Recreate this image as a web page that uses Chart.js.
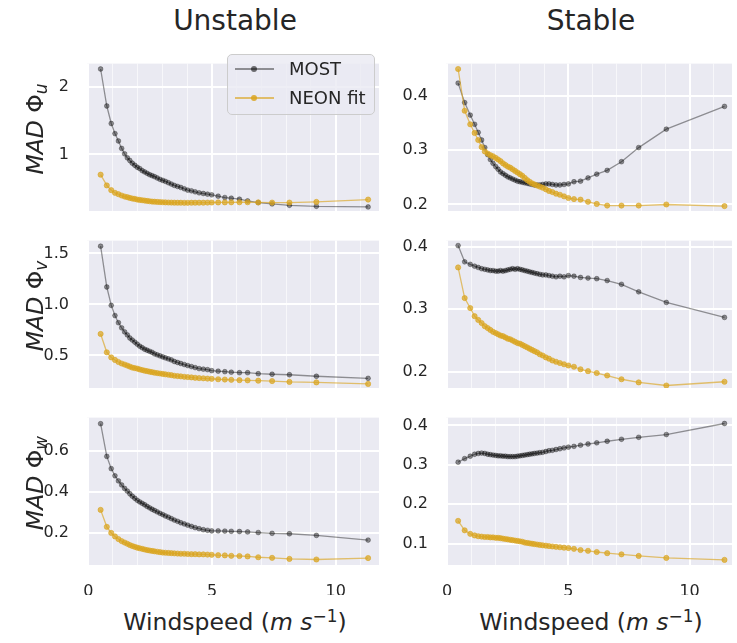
<!DOCTYPE html>
<html>
<head>
<meta charset="utf-8">
<script src="https://cdn.jsdelivr.net/npm/chart.js@4.4.0/dist/chart.umd.min.js"></script>
<style>
body { margin:0; width:737px; height:643px; overflow:hidden; position:relative; background:#fff;
       font-family:"DejaVu Sans", sans-serif; color:#262626; }
canvas { position:absolute; }
.title { position:absolute; top:7px; font-size:28px; line-height:1; transform:translateX(-50%); white-space:nowrap; }
.xlabel { position:absolute; top:611px; font-size:23.5px; line-height:1; transform:translateX(-50%); white-space:nowrap; }
.ylabel { position:absolute; left:36px; font-size:23.5px; line-height:1; white-space:nowrap;
          transform:translate(-50%,-50%) rotate(-90deg); }
sub { font-size:0.72em; vertical-align:-0.22em; line-height:0; }
sup { font-size:0.72em; vertical-align:0.5em; line-height:0; }
#legend { position:absolute; left:227px; top:54px; width:146px; height:59px; border:1px solid #cccccc;
          border-radius:5px; background:rgba(234,234,242,0.8); }
.item { position:absolute; left:0; height:0; width:146px; }
.item .ln { position:absolute; left:7px; top:-1px; width:39px; height:1.5px; }
.item .dot { position:absolute; left:23px; top:-3px; width:6px; height:6px; border-radius:50%; }
.item .tx { position:absolute; left:61px; top:-10px; font-size:18px; line-height:20px; }
</style>
</head>
<body>

<div class="title" style="left:235px">Unstable</div>
<div class="title" style="left:591px">Stable</div>

<canvas id="uU" width="384" height="209" style="left:0;top:36px"></canvas>
<canvas id="uS" width="337" height="209" style="left:400px;top:36px"></canvas>
<canvas id="vU" width="384" height="209" style="left:0;top:213px"></canvas>
<canvas id="vS" width="337" height="209" style="left:400px;top:213px"></canvas>
<canvas id="wU" width="384" height="209" style="left:0;top:390px"></canvas>
<canvas id="wS" width="337" height="209" style="left:400px;top:390px"></canvas>

<div class="ylabel" style="top:129px"><i>MAD</i> Φ<sub><i>u</i></sub></div>
<div class="ylabel" style="top:306px"><i>MAD</i> Φ<sub><i>v</i></sub></div>
<div class="ylabel" style="top:483px"><i>MAD</i> Φ<sub><i>w</i></sub></div>

<div class="xlabel" style="left:235px">Windspeed (<i>m s</i><sup>−1</sup>)</div>
<div class="xlabel" style="left:591px">Windspeed (<i>m s</i><sup>−1</sup>)</div>

<div id="legend">
  <div class="item" style="top:14px">
    <div class="ln" style="background:rgba(0,0,0,0.4)"></div>
    <div class="dot" style="background:rgba(0,0,0,0.55)"></div>
    <div class="tx">MOST</div>
  </div>
  <div class="item" style="top:43px">
    <div class="ln" style="background:rgba(218,165,32,0.65)"></div>
    <div class="dot" style="background:rgba(218,165,32,0.85)"></div>
    <div class="tx">NEON fit</div>
  </div>
</div>

<script>
// windspeed bins (m/s)
const windUnstable = [0.5, 0.75, 0.93, 1.08, 1.22, 1.35, 1.47, 1.58, 1.68, 1.78, 1.88, 1.98, 2.08, 2.18, 2.28, 2.38,
  2.48, 2.58, 2.68, 2.79, 2.9, 3.01, 3.12, 3.24, 3.36, 3.48, 3.61, 3.74, 3.88, 4.02, 4.17, 4.32, 4.48, 4.65, 4.82,
  4.99, 5.25, 5.52, 5.78, 6.11, 6.44, 6.87, 7.43, 8.13, 9.22, 11.31];
const windStable = [0.45, 0.72, 0.95, 1.13, 1.28, 1.42, 1.55, 1.67, 1.78, 1.89, 2.0, 2.1, 2.2, 2.3, 2.4, 2.5, 2.6,
  2.7, 2.8, 2.9, 3.0, 3.1, 3.2, 3.3, 3.4, 3.5, 3.6, 3.71, 3.82, 3.94, 4.07, 4.2, 4.34, 4.49, 4.65, 4.82, 5.0, 5.23,
  5.5, 5.81, 6.17, 6.6, 7.19, 7.9, 9.04, 11.44];

// MAD of phi_u
const mostUnstableU = [2.27, 1.72, 1.46, 1.31, 1.20, 1.09, 1.01, 0.95, 0.91, 0.87, 0.84, 0.81, 0.79, 0.76, 0.74, 0.72,
  0.70, 0.685, 0.67, 0.65, 0.63, 0.615, 0.60, 0.58, 0.56, 0.54, 0.525, 0.51, 0.49, 0.47, 0.46, 0.445, 0.43, 0.42,
  0.41, 0.40, 0.38, 0.36, 0.35, 0.335, 0.31, 0.285, 0.265, 0.245, 0.23, 0.22];
const neonUnstableU = [0.70, 0.54, 0.47, 0.43, 0.41, 0.39, 0.375, 0.365, 0.355, 0.345, 0.34, 0.33, 0.325, 0.32, 0.315,
  0.31, 0.305, 0.30, 0.298, 0.295, 0.292, 0.29, 0.288, 0.286, 0.285, 0.284, 0.283, 0.283, 0.282, 0.282, 0.283, 0.283,
  0.284, 0.284, 0.285, 0.286, 0.287, 0.288, 0.289, 0.29, 0.29, 0.288, 0.285, 0.285, 0.295, 0.33];
const mostStableU = [0.424, 0.388, 0.365, 0.348, 0.333, 0.319, 0.305, 0.292, 0.283, 0.276, 0.27, 0.265, 0.26, 0.257,
  0.254, 0.251, 0.249, 0.247, 0.245, 0.243, 0.242, 0.241, 0.24, 0.239, 0.238, 0.237, 0.236, 0.236, 0.236, 0.237,
  0.238, 0.238, 0.237, 0.236, 0.236, 0.237, 0.238, 0.242, 0.243, 0.249, 0.256, 0.263, 0.279, 0.305, 0.339, 0.381];
const neonStableU = [0.45, 0.373, 0.348, 0.332, 0.319, 0.306, 0.298, 0.294, 0.291, 0.289, 0.286, 0.283, 0.28, 0.276,
  0.273, 0.27, 0.268, 0.265, 0.262, 0.259, 0.256, 0.253, 0.249, 0.245, 0.242, 0.239, 0.237, 0.235, 0.233, 0.231,
  0.228, 0.225, 0.223, 0.22, 0.218, 0.215, 0.212, 0.21, 0.209, 0.205, 0.201, 0.198, 0.198, 0.198, 0.2, 0.197];

// MAD of phi_v
const mostUnstableV = [1.57, 1.17, 0.99, 0.89, 0.82, 0.77, 0.73, 0.70, 0.67, 0.65, 0.63, 0.61, 0.59, 0.575, 0.56,
  0.55, 0.54, 0.53, 0.515, 0.505, 0.495, 0.485, 0.475, 0.465, 0.455, 0.44, 0.43, 0.42, 0.41, 0.40, 0.39, 0.38, 0.37,
  0.365, 0.36, 0.35, 0.345, 0.34, 0.335, 0.33, 0.33, 0.32, 0.315, 0.31, 0.295, 0.275];
const neonUnstableV = [0.71, 0.53, 0.48, 0.455, 0.435, 0.42, 0.41, 0.40, 0.39, 0.38, 0.375, 0.37, 0.362, 0.356, 0.35,
  0.345, 0.34, 0.335, 0.33, 0.326, 0.322, 0.318, 0.314, 0.31, 0.306, 0.30, 0.297, 0.294, 0.29, 0.287, 0.284, 0.28,
  0.277, 0.275, 0.272, 0.27, 0.266, 0.263, 0.26, 0.257, 0.255, 0.252, 0.248, 0.24, 0.235, 0.22];
const mostStableV = [0.402, 0.376, 0.372, 0.369, 0.367, 0.365, 0.364, 0.363, 0.362, 0.362, 0.361, 0.361, 0.362,
  0.361, 0.362, 0.363, 0.364, 0.365, 0.364, 0.365, 0.364, 0.363, 0.362, 0.361, 0.36, 0.359, 0.358, 0.357, 0.356,
  0.355, 0.355, 0.354, 0.353, 0.352, 0.353, 0.352, 0.354, 0.353, 0.351, 0.35, 0.349, 0.346, 0.34, 0.328, 0.311, 0.287];
const neonStableV = [0.367, 0.318, 0.302, 0.289, 0.283, 0.278, 0.273, 0.27, 0.267, 0.264, 0.262, 0.26, 0.258, 0.257,
  0.255, 0.253, 0.252, 0.25, 0.248, 0.246, 0.245, 0.243, 0.241, 0.239, 0.237, 0.235, 0.233, 0.231, 0.228, 0.226,
  0.223, 0.221, 0.218, 0.216, 0.214, 0.212, 0.21, 0.208, 0.204, 0.201, 0.198, 0.194, 0.188, 0.183, 0.178, 0.184];

// MAD of phi_w
const mostUnstableW = [0.735, 0.575, 0.515, 0.48, 0.455, 0.435, 0.418, 0.405, 0.392, 0.38, 0.37, 0.36, 0.352, 0.345,
  0.338, 0.33, 0.323, 0.316, 0.31, 0.303, 0.296, 0.29, 0.283, 0.277, 0.27, 0.263, 0.257, 0.25, 0.244, 0.238, 0.232,
  0.226, 0.221, 0.216, 0.213, 0.21, 0.21, 0.209, 0.208, 0.207, 0.205, 0.202, 0.198, 0.196, 0.188, 0.165];
const neonUnstableW = [0.313, 0.23, 0.20, 0.183, 0.17, 0.16, 0.153, 0.147, 0.141, 0.136, 0.132, 0.128, 0.125, 0.122,
  0.119, 0.116, 0.114, 0.112, 0.11, 0.108, 0.106, 0.104, 0.103, 0.102, 0.101, 0.10, 0.099, 0.098, 0.098, 0.097,
  0.096, 0.096, 0.095, 0.095, 0.094, 0.093, 0.091, 0.09, 0.088, 0.087, 0.085, 0.081, 0.078, 0.073, 0.07, 0.077];
const mostStableW = [0.307, 0.316, 0.322, 0.327, 0.329, 0.33, 0.329, 0.327, 0.326, 0.325, 0.324, 0.323, 0.323, 0.322,
  0.322, 0.321, 0.321, 0.321, 0.321, 0.322, 0.323, 0.324, 0.325, 0.326, 0.327, 0.328, 0.329, 0.33, 0.331, 0.332,
  0.334, 0.336, 0.337, 0.339, 0.341, 0.343, 0.345, 0.347, 0.35, 0.353, 0.356, 0.36, 0.365, 0.37, 0.377, 0.405];
const neonStableW = [0.158, 0.134, 0.125, 0.121, 0.119, 0.118, 0.117, 0.117, 0.116, 0.116, 0.115, 0.115, 0.114,
  0.113, 0.112, 0.111, 0.11, 0.109, 0.108, 0.107, 0.106, 0.105, 0.103, 0.102, 0.101, 0.1, 0.099, 0.098, 0.097,
  0.096, 0.095, 0.094, 0.093, 0.092, 0.091, 0.09, 0.089, 0.087, 0.084, 0.082, 0.079, 0.076, 0.073, 0.069, 0.064, 0.059];

// ticks
const xGridValues = [0, 1, 2, 3, 4, 5, 6, 7, 8, 9, 10, 11];
const xTickLabels = [0, 5, 10];
const yTicksUnstableU = [1, 2];
const yTicksStableU = [0.2, 0.3, 0.4];
const yTicksUnstableV = [0.5, 1.0, 1.5];
const yTicksStableV = [0.2, 0.3, 0.4];
const yTicksUnstableW = [0.2, 0.4, 0.6];
const yTicksStableW = [0.1, 0.2, 0.3, 0.4];

const tickFont = { family: 'DejaVu Sans', size: 16 };

const panelBackground = {
    id: 'panelBackground',
    beforeDraw(chart) {
        const { ctx, chartArea: { left, top, width, height } } = chart;
        ctx.save();
        ctx.fillStyle = '#EAEAF2';
        ctx.fillRect(left, top, width, height);
        ctx.restore();
    }
};

function toPoints(wind, vals) {
    return wind.map((w, i) => ({ x: w, y: vals[i] }));
}

function drawPanel(id, wind, most, neon, yMin, yMax, yTicks, digits, bottomRow, axisWidth) {
    new Chart(document.getElementById(id), {
        type: 'line',
        data: {
            datasets: [
                {
                    label: 'MOST',
                    data: toPoints(wind, most),
                    order: 2,
                    borderColor: 'rgba(0,0,0,0.4)',
                    borderWidth: 1.3,
                    pointRadius: 2.4,
                    pointBackgroundColor: 'rgba(0,0,0,0.42)',
                    pointBorderColor: 'rgba(0,0,0,0.3)',
                    pointBorderWidth: 1,
                    tension: 0
                },
                {
                    label: 'NEON fit',
                    data: toPoints(wind, neon),
                    order: 1,
                    borderColor: 'rgba(218,165,32,0.65)',
                    borderWidth: 1.3,
                    pointRadius: 2.6,
                    pointBackgroundColor: 'rgba(218,165,32,0.72)',
                    pointBorderColor: 'rgba(218,165,32,0.6)',
                    pointBorderWidth: 1,
                    tension: 0
                }
            ]
        },
        options: {
            responsive: false,
            animation: false,
            events: [],
            layout: { padding: { top: 10, bottom: 4, left: 0, right: 1 } },
            plugins: { legend: { display: false }, tooltip: { enabled: false } },
            scales: {
                x: {
                    type: 'linear',
                    min: -0.05,
                    max: 11.75,
                    afterBuildTicks: s => { s.ticks = xGridValues.map(v => ({ value: v })); },
                    afterFit: s => { s.height = 30; },
                    border: { display: false },
                    grid: {
                        drawTicks: false,
                        color: c => (c.tick && c.tick.value % 5 === 0) ? '#ffffff' : 'rgba(255,255,255,0.6)',
                        lineWidth: c => (c.tick && c.tick.value % 5 === 0) ? 2 : 1
                    },
                    ticks: {
                        autoSkip: false,
                        maxRotation: 0,
                        padding: 17,
                        font: tickFont,
                        color: '#262626',
                        callback: v => (bottomRow && xTickLabels.includes(v)) ? String(v) : ''
                    }
                },
                y: {
                    min: yMin,
                    max: yMax,
                    afterBuildTicks: s => { s.ticks = yTicks.map(v => ({ value: v })); },
                    afterFit: s => { s.width = axisWidth; },
                    border: { display: false },
                    grid: { drawTicks: false, color: '#ffffff', lineWidth: 2 },
                    ticks: {
                        padding: 18,
                        font: tickFont,
                        color: '#262626',
                        callback: v => v.toFixed(digits)
                    }
                }
            }
        },
        plugins: [panelBackground]
    });
}

drawPanel('uU', windUnstable, mostUnstableU, neonUnstableU, 0.16, 2.35, yTicksUnstableU, 0, false, 87);
drawPanel('uS', windStable, mostStableU, neonStableU, 0.188, 0.46, yTicksStableU, 1, false, 46);
drawPanel('vU', windUnstable, mostUnstableV, neonUnstableV, 0.18, 1.625, yTicksUnstableV, 1, false, 87);
drawPanel('vS', windStable, mostStableV, neonStableV, 0.174, 0.41, yTicksStableV, 1, false, 46);
drawPanel('wU', windUnstable, mostUnstableW, neonUnstableW, 0.043, 0.765, yTicksUnstableW, 1, true, 87);
drawPanel('wS', windStable, mostStableW, neonStableW, 0.046, 0.42, yTicksStableW, 1, true, 46);
</script>
</body>
</html>
